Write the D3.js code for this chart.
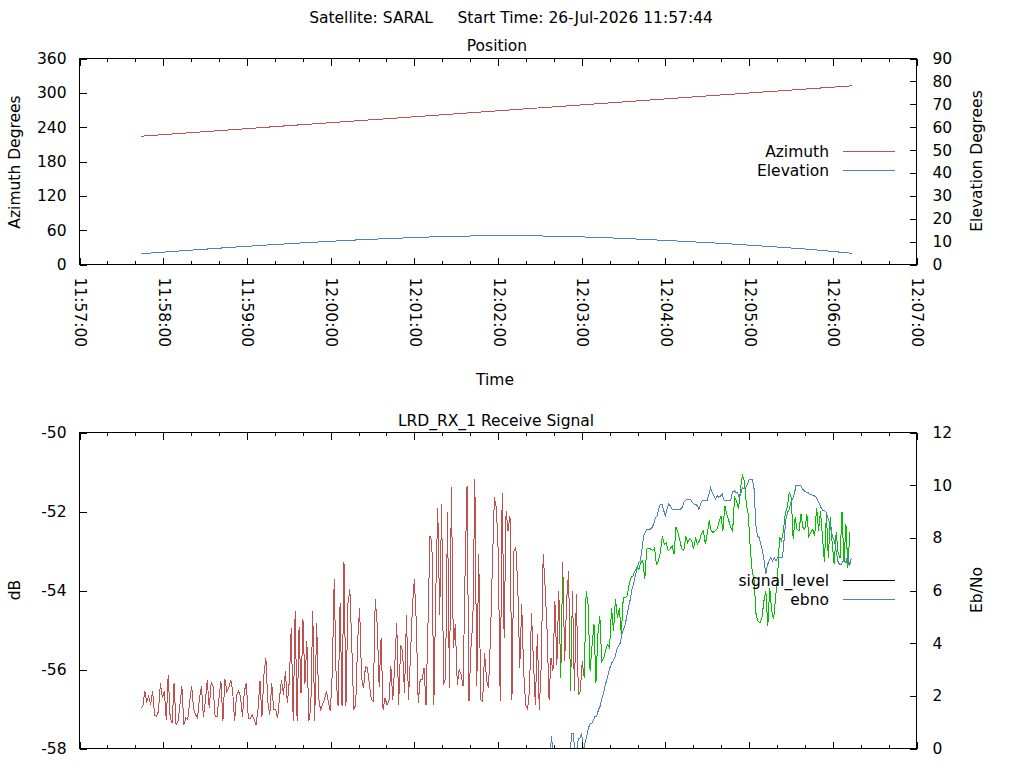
<!DOCTYPE html>
<html>
<head>
<meta charset="utf-8">
<title>SARAL pass</title>
<script src="https://cdn.jsdelivr.net/npm/d3@7"></script>
<style>
  body { margin: 0; background: #fff; }
  svg { display: block; font-family: 'DejaVu Sans', sans-serif; font-size: 15.5px; }
  .frame { fill: none; stroke: #000; shape-rendering: crispEdges; }
  .tick line { shape-rendering: crispEdges; }
  .trace { fill: none; stroke-width: 1; shape-rendering: crispEdges; }
</style>
</head>
<body>
<svg id="chart" width="1024" height="768"></svg>
<script>
// pass data
const passStart = '2026-07-26T11:57:44Z';
const axisStart = '2026-07-26T11:57:00Z';
const axisEnd = '2026-07-26T12:07:00Z';

const positionStepSeconds = 30;
const azimuth = [224.2, 229.4, 234.6, 239.9, 245.1, 250.3, 255.4, 260.6, 265.8, 271.0,
  276.2, 281.4, 286.6, 291.8, 297.0, 302.1, 307.2, 312.3];
const elevation = [4.7, 6.0, 7.3, 8.5, 9.6, 10.6, 11.4, 12.1, 12.5, 12.6,
  12.35, 11.8, 11.0, 10.1, 9.1, 7.9, 6.6, 4.9];

const signalStepSeconds = 1.4;
const signalLevel = [
  -56.98, -56.93, -56.55, -56.81, -56.68, -56.89, -56.55, -57.15, -57.19, -57.06,
  -56.34, -56.72, -56.55, -57.27, -56.13, -57.23, -57.36, -56.34, -57.40, -57.31,
  -56.89, -56.43, -57.40, -57.23, -57.27, -56.81, -56.43, -56.98, -57.15, -57.23,
  -56.72, -56.43, -57.19, -56.81, -56.26, -56.98, -56.34, -56.43, -57.19, -57.19,
  -56.72, -56.30, -57.31, -56.23, -56.55, -56.47, -56.26, -56.55, -57.31, -56.64,
  -56.55, -56.68, -57.19, -56.55, -56.34, -57.23, -57.23, -57.15, -57.27, -57.40,
  -56.98, -56.30, -57.19, -56.13, -55.71, -56.81, -57.15, -56.34, -57.02, -57.02,
  -57.23, -56.72, -56.26, -56.64, -56.04, -56.85, -56.30, -54.94,
  -57.31, -54.52, -57.31, -54.93, -56.60, -54.73, -56.37, -55.28, -57.31, -56.98,
  -54.52, -57.31, -54.82, -56.72, -57.02, -56.89, -56.76, -56.55, -56.81, -57.06,
  -56.09, -53.72, -56.26, -56.93, -54.31, -56.93, -53.29, -56.93, -54.35, -53.97,
  -55.41, -57.02, -56.89, -55.28, -54.44, -56.21, -56.47, -55.92, -55.96, -56.38,
  -56.76, -56.81, -54.22, -54.86, -56.43, -55.20, -57.02, -56.72, -56.89, -56.81,
  -55.92, -56.76, -55.88, -54.82, -56.89, -55.37, -55.54, -56.60, -54.61, -56.76,
  -55.71, -54.44, -53.72, -54.77, -56.85, -56.26, -56.26, -55.96, -56.89,
  -54.86, -52.62, -52.74, -56.89, -54.06, -51.90, -54.61, -51.81, -56.38, -56.21,
  -52.02, -56.47, -51.39, -55.45, -54.86, -56.38, -56.00, -56.13, -56.43, -53.55,
  -51.35, -56.81, -55.45, -54.77, -51.18, -56.43, -53.08, -56.76, -56.81, -55.58,
  -56.26, -56.47, -55.20, -53.34, -51.64, -51.90, -53.04, -56.81, -51.52, -55.20,
  -51.98, -52.49, -52.11, -56.76, -53.00, -52.91, -53.93, -55.96, -54.35, -56.05,
  -56.89, -57.02, -56.51, -54.56, -55.79, -56.89, -55.11, -57.02, -55.88, -53.08,
  -53.93, -55.03, -56.76, -55.71,
  -56.04, -54.27, -55.88, -54.01, -56.21, -53.29, -55.79, -54.27, -53.50, -56.55,
  -54.01, -56.55, -54.10, -56.64, -56.55, -55.79, -56.21, -54.01, -54.35, -56.04,
  -55.41, -54.86, -56.34, -55.11, -54.65, -55.79, -55.71, -55.50, -55.37, -55.45,
  -54.44, -55.03, -54.22,
  -54.69, -54.44, -55.11, -54.18, -54.18, -54.14, -53.84, -53.67, -53.63, -53.50,
  -53.42, -53.46, -53.29, -53.25, -53.72, -52.95, -52.93, -52.95, -52.99, -52.93,
  -53.34, -53.25, -53.04, -52.62, -52.83, -52.79, -52.99, -52.95, -52.87, -53.08,
  -52.40, -52.53, -52.74, -52.95, -52.99, -52.62, -52.79, -52.70, -52.74, -52.95,
  -52.66, -52.83, -52.74, -52.57, -52.49, -52.83, -52.57, -52.23, -52.49, -52.53,
  -52.49, -52.45, -52.28, -52.11, -52.49, -51.85, -52.07, -52.23, -52.40, -52.49,
  -51.64, -51.73, -51.94, -51.43, -51.09, -51.22, -51.81, -52.07, -52.91, -53.50,
  -53.76, -54.61, -54.78, -54.82, -54.69, -54.27, -54.01, -54.90, -53.93, -54.52,
  -54.73, -54.18, -53.67, -52.66, -52.74, -52.49, -52.02, -51.90, -51.51, -51.64,
  -52.70, -52.15, -52.45, -52.49, -52.07, -52.40, -52.45, -52.07, -52.62, -52.53,
  -52.45, -52.62, -51.90, -52.49, -51.98, -52.66, -53.29, -52.07, -53.17, -52.15,
  -52.83, -53.34, -52.53, -53.04, -53.17, -52.02, -53.29, -52.32, -53.42, -52.53
];

const ebnoOffsetSeconds = 292;
const ebnoStepSeconds = 1.2;
const ebno = [
  -0.3, -0.3, 0.46, -0.3, -0.3, -0.3, -0.3, -0.3, 0, 0,
  -0.3, -0.3, -0.3, -0.3, 0.58, 0.58, -0.2, -0.2, 0.39, 0.39,
  0.58, -0.1, 0.2, 0.46, 0.77, 0.94, 0.94, 1.06, 1.22, 1.22,
  1.47, 1.6, 1.9, 2.1, 2.4, 2.6, 2.85, 3.1, 3.25, 3.35,
  3.5, 3.75, 3.9, 4.0,
  4.33, 4.52, 4.71, 5.03, 5.35, 5.66, 6.04, 6.23, 6.55, 6.81,
  7.06, 7.12, 7.57, 8.08, 8.20, 8.33, 8.33, 8.33, 8.39, 8.52,
  8.77, 8.84, 9.09, 9.28, 9.28, 9.03, 8.84, 9.09, 9.28, 9.22,
  9.09, 9.09, 9.09, 9.09, 9.09, 9.09, 9.15, 9.35, 9.43, 9.47,
  9.47, 9.47, 9.35, 9.28, 9.28, 9.22, 9.09, 9.28, 9.43, 9.43,
  9.43, 9.43, 9.66, 9.89, 9.73, 9.60, 9.47, 9.60, 9.54, 9.60,
  9.66, 9.43, 9.41, 9.41, 9.41, 9.41, 9.73, 9.79, 9.73, 9.73,
  9.54, 9.66, 9.92, 9.85, 9.92, 10.04, 10.20, 10.20, 10.20, 9.85,
  8.52, 8.08, 8.01, 7.76, 7.50, 7.12, 6.62, 6.99, 7.12, 7.25,
  7.12, 7.25, 7.12, 7.25, 7.25, 7.25, 7.25, 8.01, 8.71, 8.97,
  9.09, 9.35, 9.47, 9.66, 9.98, 9.98, 9.98, 9.98, 9.85, 9.79,
  9.73, 9.73, 9.66, 9.66, 9.60, 9.60, 9.54, 9.41, 9.28, 9.15,
  9.03, 9.03, 8.97, 8.77, 8.58, 8.27, 8.01, 7.89, 7.50, 7.12,
  6.99, 6.99, 7.12, 7.12, 7.06, 7.38, 6.93, 7.25
];

const azimuthTicks = [0, 60, 120, 180, 240, 300, 360];
const elevationTicks = [0, 10, 20, 30, 40, 50, 60, 70, 80, 90];
const dbTicks = [-58, -56, -54, -52, -50];
const dbTickLabels = ['-58', '-56', '-54', '-52', '-50'];
const ebnoTicks = [0, 2, 4, 6, 8, 10, 12];

const colors = { red: '#c0504d', blue: '#4f81bd', green: '#00c000' };

const svg = d3.select('#chart');
const left = 79.5;
const right = 916.5;
const posTop = 58.5;
const posBottom = 264.5;
const sigTop = 432.5;
const sigBottom = 748.5;

const x = d3.scaleUtc().domain([new Date(axisStart), new Date(axisEnd)]).range([left, right]);
const startMs = new Date(passStart).getTime();
const timeAt = seconds => new Date(startMs + seconds * 1000);

const yAz = d3.scaleLinear().domain([0, 360]).range([posBottom, posTop]);
const yEl = d3.scaleLinear().domain([0, 90]).range([posBottom, posTop]);
const yDb = d3.scaleLinear().domain([-58, -50]).range([sigBottom, sigTop]);
const yEb = d3.scaleLinear().domain([0, 12]).range([sigBottom, sigTop]);

const cleanAxis = g => {
  g.attr('font-family', null).attr('font-size', null);
  g.select('.domain').remove();
};

const timeAxes = (top, bottom, withLabels) => {
  [[d3.axisBottom, bottom], [d3.axisTop, top]].forEach(([axis, y]) => {
    svg.append('g').attr('transform', `translate(0,${y})`)
      .call(axis(x).ticks(d3.utcSecond.every(20)).tickSizeInner(-3.5).tickSizeOuter(0).tickFormat(''))
      .call(cleanAxis);
    const major = svg.append('g').attr('transform', `translate(0,${y})`)
      .call(axis(x).ticks(d3.utcMinute.every(1)).tickSizeInner(-7).tickSizeOuter(0)
        .tickFormat(d3.utcFormat('%H:%M:%S')))
      .call(cleanAxis);
    if (withLabels && axis === d3.axisBottom) {
      major.selectAll('text')
        .attr('y', null).attr('dy', null)
        .attr('transform', 'translate(0,13) rotate(90)')
        .attr('text-anchor', 'start')
        .attr('dominant-baseline', 'central');
    } else {
      major.selectAll('text').remove();
    }
  });
};

const valueAxes = (leftScale, leftTicks, leftFormat, rightScale, rightTicks) => {
  svg.append('g').attr('transform', `translate(${left},0)`)
    .call(d3.axisLeft(leftScale).tickValues(leftTicks).tickFormat(leftFormat)
      .tickSizeInner(-7).tickSizeOuter(0).tickPadding(13))
    .call(cleanAxis);
  svg.append('g').attr('transform', `translate(${right},0)`)
    .call(d3.axisRight(rightScale).tickValues(rightTicks).tickFormat(d => String(d))
      .tickSizeInner(-7).tickSizeOuter(0).tickPadding(16))
    .call(cleanAxis);
};

const frame = (top, bottom) => {
  svg.append('rect').attr('class', 'frame')
    .attr('x', left).attr('y', top).attr('width', right - left).attr('height', bottom - top);
};

const label = (text, xPos, yPos, anchor, rotate) => {
  const t = svg.append('text').text(text).attr('text-anchor', anchor || 'middle');
  if (rotate) {
    t.attr('transform', `translate(${xPos},${yPos}) rotate(${rotate})`);
  } else {
    t.attr('x', xPos).attr('y', yPos);
  }
};

const legend = (entries, xText, yFirst) => {
  entries.forEach(([name, color], i) => {
    const y = yFirst + i * 19;
    label(name, xText, y + 5.5, 'end');
    svg.append('line').attr('x1', 843).attr('x2', 895).attr('y1', y).attr('y2', y)
      .attr('stroke', color).attr('stroke-width', 1).attr('shape-rendering', 'crispEdges');
  });
};

// titles
label('Satellite: SARAL\u00a0\u00a0\u00a0\u00a0 Start Time: 26-Jul-2026 11:57:44', 511, 23);
label('Position', 497, 51);
label('LRD_RX_1 Receive Signal', 496, 426);
label('Time', 495, 385);
label('Azimuth Degrees', 19.5, 162, 'middle', -90);
label('Elevation Degrees', 982, 161, 'middle', -90);
label('dB', 19.5, 590, 'middle', -90);
label('Eb/No', 982, 590, 'middle', -90);

// position plot
const positionPoints = azimuth.map((az, i) => ({
  time: timeAt(i * positionStepSeconds), az, el: elevation[i],
}));
svg.append('path').datum(positionPoints)
  .attr('class', 'trace').attr('stroke', colors.red)
  .attr('d', d3.line().x(d => x(d.time)).y(d => yAz(d.az)));
svg.append('path').datum(positionPoints)
  .attr('class', 'trace').attr('stroke', colors.blue)
  .attr('d', d3.line().x(d => x(d.time)).y(d => yEl(d.el)));

timeAxes(posTop, posBottom, true);
valueAxes(yAz, azimuthTicks, d => String(d), yEl, elevationTicks);
frame(posTop, posBottom);
legend([['Azimuth', colors.red], ['Elevation', colors.blue]], 829, 151.5);

// signal plot
svg.append('clipPath').attr('id', 'signal-clip')
  .append('rect').attr('x', left).attr('y', sigTop)
  .attr('width', right - left).attr('height', sigBottom - sigTop);

// locked when both ebno samples around that moment are at or above 0
const lockedAt = seconds => {
  const pos = (seconds - ebnoOffsetSeconds) / ebnoStepSeconds;
  const lo = Math.floor(pos);
  const hi = Math.ceil(pos);
  if (lo < 0 || hi >= ebno.length) return false;
  return ebno[lo] >= 0 && ebno[hi] >= 0;
};

const signalPoints = signalLevel.map((value, i) => ({
  time: timeAt(i * signalStepSeconds),
  value,
  locked: lockedAt(i * signalStepSeconds),
}));

// split the signal trace into runs of the same colour
const runs = [];
signalPoints.forEach((p, i) => {
  if (i === 0) return;
  const color = p.locked ? colors.green : colors.red;
  const last = runs[runs.length - 1];
  if (last && last.color === color) {
    last.points.push(p);
  } else {
    runs.push({ color, points: [signalPoints[i - 1], p] });
  }
});

const plotArea = svg.append('g').attr('clip-path', 'url(#signal-clip)');
const signalLine = d3.line().x(d => x(d.time)).y(d => yDb(d.value));
plotArea.selectAll('.signal').data(runs).enter().append('path')
  .attr('class', 'signal trace')
  .attr('stroke', d => d.color)
  .attr('d', d => signalLine(d.points));

const ebnoPoints = ebno.map((value, j) => ({
  time: timeAt(ebnoOffsetSeconds + j * ebnoStepSeconds), value,
}));
plotArea.append('path').datum(ebnoPoints)
  .attr('class', 'trace').attr('stroke', colors.blue)
  .attr('d', d3.line().x(d => x(d.time)).y(d => yEb(d.value)));

timeAxes(sigTop, sigBottom, false);
valueAxes(yDb, dbTicks, (d, i) => dbTickLabels[i], yEb, ebnoTicks);
frame(sigTop, sigBottom);
legend([['signal_level', '#000'], ['ebno', colors.blue]], 829, 580.5);
</script>
</body>
</html>
